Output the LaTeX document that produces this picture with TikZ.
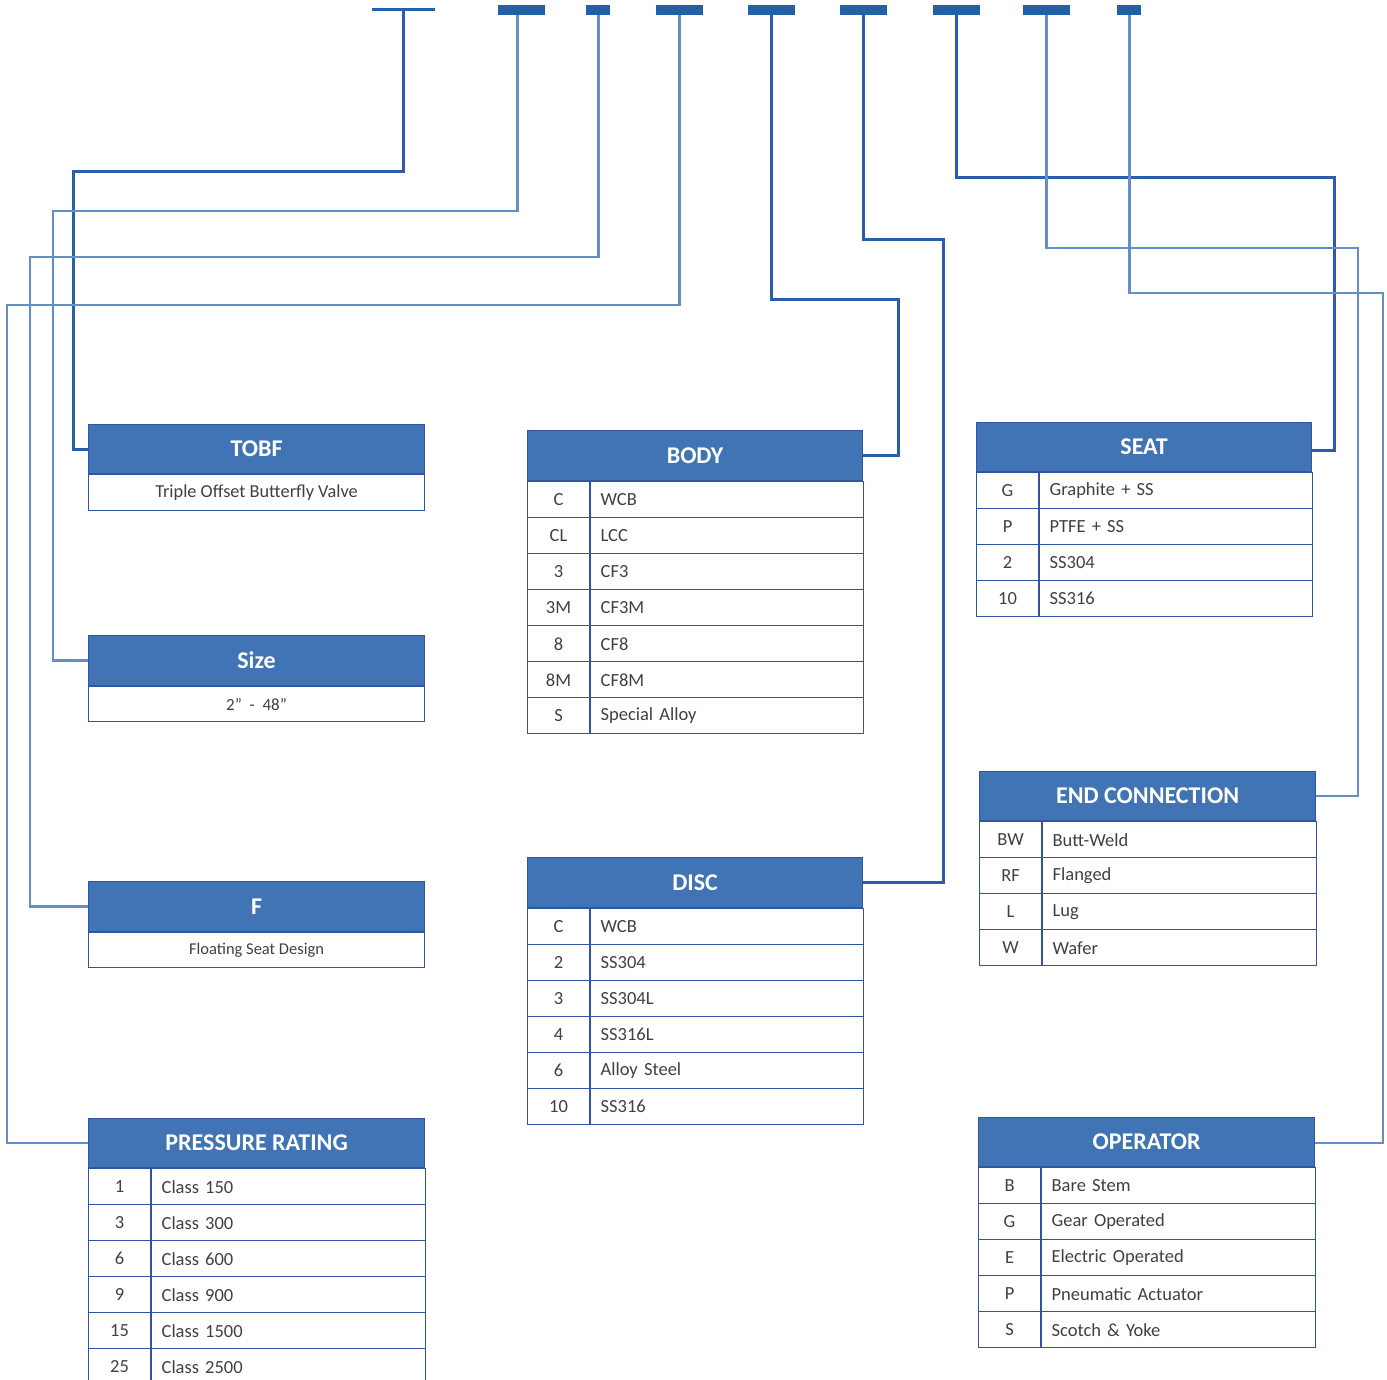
\documentclass[tikz,border=0pt]{standalone}
\usepackage{fontspec}
\setmainfont{Carlito}
\usetikzlibrary{calc}
\definecolor{hdrc}{RGB}{65,116,180}
\definecolor{bordc}{RGB}{50,84,165}
\definecolor{barc}{RGB}{34,96,168}
\definecolor{darkln}{RGB}{42,94,168}
\definecolor{lightln}{RGB}{98,143,198}
\definecolor{txtc}{RGB}{64,64,64}
\tikzset{
  hdr/.style={draw=bordc, fill=hdrc, line width=1.2pt, text=white, inner sep=0pt,
    font=\fontsize{24}{28}\selectfont\bfseries, anchor=north west},
  cellc/.style={draw=bordc, line width=1.1pt, text=txtc, inner sep=0pt, minimum height=36pt,
    font=\fontsize{18.5}{22}\selectfont, anchor=north west},
  subrow/.style={draw=bordc, line width=1.1pt, text=txtc, inner sep=0pt, minimum height=36pt,
    font=\fontsize{17}{20}\selectfont, anchor=north west},
  bar/.style={fill=barc, inner sep=0pt, minimum height=10pt, anchor=north west},
  darkconn/.style={draw=darkln, line width=3pt},
  lightconn/.style={draw=lightln, line width=2.6pt},
}
% #1 name, #2 x, #3 y, #4 width, #5 header height, #6 split, #7 title, #8 rows
\newcommand\mktable[8]{%
  \node[hdr, minimum width=#4pt, minimum height=#5pt] (#1) at (#2,#3) {#7};
  \pgfmathsetmacro\mytw{#4-#6-20}%
  \foreach [count=\i] \c/\d in {#8} {
    \node[cellc, minimum width=#6pt] (#1-c\i) at ($(#1.south west)+(0,{(\i-1)*36})$) {\c};
    \node[cellc, inner xsep=10pt, text width=\mytw pt, align=left] (#1-d\i) at (#1-c\i.north east) {\d};
  }%
}
\newcommand\mkbox[6]{%
  \node[hdr, minimum width=#4pt, minimum height=#5pt] (#1) at (#2,#3) {#6};
}
\begin{document}
\begin{tikzpicture}[x=1pt,y=-1pt]
\useasboundingbox (0,0) rectangle (1387,1380);
% top code bars
\coordinate (b1) at (403,9.5);
\draw[draw=barc, line width=2.5pt] (372,9.5) -- (435,9.5);
\node[bar, minimum width=47pt] (b2) at (498,5) {};
\node[bar, minimum width=24pt] (b3) at (586,5) {};
\node[bar, minimum width=47pt] (b4) at (656,5) {};
\node[bar, minimum width=47pt] (b5) at (748,5) {};
\node[bar, minimum width=47pt] (b6) at (840,5) {};
\node[bar, minimum width=47pt] (b7) at (933,5) {};
\node[bar, minimum width=47pt] (b8) at (1023,5) {};
\node[bar, minimum width=24pt] (b9) at (1117,5) {};

\mkbox{tobf}{88}{424}{336}{49}{TOBF}
\node[subrow, minimum width=336pt] (tobf-s) at (tobf.south west) {\fontsize{18.3}{20}\selectfont Triple Offset Butterfly Valve};
\mkbox{size}{88}{635}{336}{50}{Size}
\node[subrow, minimum width=336pt, minimum height=35pt] (size-s) at (size.south west) {2” \ - \ 48”};
\mkbox{ff}{88}{881}{336}{50}{F}
\node[subrow, minimum width=336pt, minimum height=35pt] (ff-s) at (ff.south west) {\fontsize{16.5}{20}\selectfont Floating Seat Design};

\mktable{pres}{88}{1118}{336}{49}{62}{PRESSURE RATING}{1/Class 150, 3/Class 300, 6/Class 600, 9/Class 900, 15/Class 1500, 25/Class 2500}
\mktable{body}{527}{430}{335}{50}{62}{BODY}{C/WCB, CL/LCC, 3/CF3, 3M/CF3M, 8/CF8, 8M/CF8M, S/Special Alloy}
\mktable{disc}{527}{857}{335}{50}{62}{DISC}{C/WCB, 2/SS304, 3/SS304L, 4/SS316L, 6/Alloy Steel, 10/SS316}
\mktable{seat}{976}{422}{335}{49}{62}{SEAT}{G/Graphite + SS, P/PTFE + SS, 2/SS304, 10/SS316}
\mktable{endc}{979}{771}{336}{49}{62}{END CONNECTION}{BW/Butt-Weld, RF/Flanged, L/Lug, W/Wafer}
\mktable{oper}{978}{1117}{336}{49}{62}{OPERATOR}{B/Bare Stem, G/Gear Operated, E/Electric Operated, P/Pneumatic Actuator, S/Scotch \& Yoke}

% connectors
\draw[darkconn] (b1) -- (403,172) -- (73,172) |- (tobf.west);
\draw[lightconn] ($(b2.south)+(-4,0)$) |- (53,211) |- (size.west);
\draw[lightconn] (b3.south) |- (30,257) |- (ff.west);
\draw[lightconn] (b4.south) |- (7,305) |- (pres.west);
\draw[darkconn] (b5.south) |- (898,300) |- (body.east);
\draw[darkconn] (b6.south) |- (943,240) |- (disc.east);
\draw[darkconn] (b7.south) |- (1334,178) |- ($(seat.east)+(0,3)$);
\draw[lightconn] (b8.south) |- (1358,248) |- (endc.east);
\draw[lightconn] (b9.south) |- (1383,293) |- ($(oper.east)+(0,1)$);
\end{tikzpicture}
\end{document}
